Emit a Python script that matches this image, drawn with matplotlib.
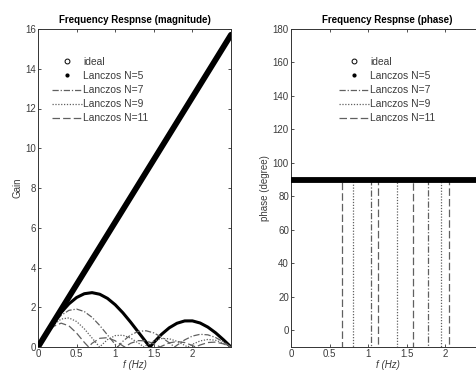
import numpy as np
import matplotlib as mlt
mlt.use("Agg")
import matplotlib.pyplot as plt
from matplotlib.lines import Line2D

plt.rcParams['font.family'] = ['Liberation Sans', 'DejaVu Sans']

# frequency grid (Hz) and gains
freq = [0.0, 0.1, 0.2, 0.3, 0.4, 0.5, 0.6, 0.7, 0.8, 0.9, 1.0, 1.1, 1.2,
        1.3, 1.4, 1.5, 1.6, 1.7, 1.8, 1.9, 2.0, 2.1, 2.2, 2.3, 2.4, 2.5]
idealFreq = [0.0, 2.5]
idealGain = [0.0, 15.71]
gainN5 = [0, 0.623, 1.212, 1.737, 2.170, 2.490, 2.681, 2.735, 2.654, 2.446, 2.127, 1.719, 1.249,
          0.747, 0.246, 0.225, 0.636, 0.965, 1.194, 1.312, 1.314, 1.207, 1.001, 0.715, 0.372, 0]
gainN7 = [0, 0.617, 1.166, 1.590, 1.844, 1.908, 1.783, 1.493, 1.082, 0.607, 0.130, 0.291, 0.606,
          0.786, 0.817, 0.710, 0.494, 0.210, 0.090, 0.357, 0.550, 0.638, 0.612, 0.478, 0.262, 0]
gainN9 = [0, 0.609, 1.107, 1.407, 1.464, 1.282, 0.916, 0.451, 0.009, 0.372, 0.574, 0.592, 0.449,
          0.201, 0.075, 0.303, 0.424, 0.415, 0.287, 0.083, 0.135, 0.305, 0.380, 0.340, 0.199, 0]
gainN11 = [0, 0.599, 1.036, 1.200, 1.066, 0.699, 0.232, 0.186, 0.437, 0.470, 0.313, 0.056, 0.187,
           0.323, 0.308, 0.165, 0.036, 0.206, 0.276, 0.222, 0.074, 0.101, 0.225, 0.247, 0.159, 0]
# frequencies where the response changes sign (gain 0, phase flips 90 -> -90)
zerosN5 = [1.451]
zerosN7 = [1.031, 1.770]
zerosN9 = [0.798, 1.373, 1.938]
zerosN11 = [0.656, 1.123, 1.582, 2.042]
idealPhase = [90, 90]

labels = ["ideal", "Lanczos N=5", "Lanczos N=7", "Lanczos N=9", "Lanczos N=11"]
grey = '#606060'
txtCol = '#3c3c3c'


def withZeros(f, g, zeros):
    # insert the notch points into the sampled curve
    ff = np.concatenate([f, zeros])
    gg = np.concatenate([g, np.zeros(len(zeros))])
    idx = np.argsort(ff, kind='stable')
    return ff[idx], gg[idx]


def phaseSteps(zeros, fmax=2.5):
    ff = [0.0]
    pp = [90.0]
    cur = 90.0
    for z in zeros:
        ff += [z, z]
        pp += [cur, -cur]
        cur = -cur
    ff.append(fmax)
    pp.append(cur)
    return ff, pp


styles = [
    dict(color='black', lw=2.2),
    dict(color=grey, lw=0.9, dashes=(5, 1.5, 1, 1.5)),
    dict(color=grey, lw=0.9, dashes=(1, 1.3)),
    dict(color=grey, lw=0.9, dashes=(6, 2.5)),
]
gains = [gainN5, gainN7, gainN9, gainN11]
zeroLists = [zerosN5, zerosN7, zerosN9, zerosN11]

fig = plt.figure(figsize=(4.76, 3.75), dpi=100)
axMag = fig.add_axes([38 / 476, 1 - 347 / 375, 193 / 476, 318 / 375])
axPh = fig.add_axes([291 / 476, 1 - 347 / 375, 193 / 476, 318 / 375])

# magnitude
axMag.plot(idealFreq, idealGain, color='black', lw=4.2, solid_capstyle='round', zorder=4)
for g, z, st in zip(gains, zeroLists, styles):
    ff, gg = withZeros(np.array(freq), np.array(g), z)
    axMag.plot(ff, gg, **st)
axMag.set_xlim(0, 2.5)
axMag.set_ylim(0, 16)
axMag.set_yticks(np.arange(0, 17, 2))
axMag.set_title("Frequency Respnse (magnitude)", fontsize=7, fontweight='bold', pad=4)
axMag.set_ylabel("Gain", fontsize=7, color=txtCol, labelpad=2)

# phase
axPh.plot(idealFreq, idealPhase, color='black', lw=4.2, zorder=4)
ff, pp = phaseSteps(zerosN5)
axPh.plot(ff[:2], pp[:2], **styles[0])
for z, st in zip(zeroLists[1:], styles[1:]):
    ff, pp = phaseSteps(z)
    axPh.plot(ff, pp, **st)
axPh.set_xlim(0, 2.5)
axPh.set_ylim(-10, 180)
axPh.set_yticks(np.arange(0, 181, 20))
axPh.set_title("Frequency Respnse (phase)", fontsize=7, fontweight='bold', pad=4)
axPh.set_ylabel("phase (degree)", fontsize=7, color=txtCol, labelpad=2)

handles = [Line2D([], [], ls='none', marker='o', mfc='none', mec='black', ms=3.5, mew=0.7),
           Line2D([], [], ls='none', marker='.', color='black', ms=4)]
handles += [Line2D([], [], **st) for st in styles[1:]]

for ax, anchor in [(axMag, (0.075, 0.912)), (axPh, (0.25, 0.912))]:
    ax.set_xticks([0, 0.5, 1, 1.5, 2])
    ax.set_xticklabels(["0", "0.5", "1", "1.5", "2"])
    ax.set_xlabel("f (Hz)", fontsize=7, style='italic', color=txtCol, labelpad=1)
    ax.tick_params(direction='in', length=2.5, width=0.6, labelsize=7, labelcolor=txtCol,
                   top=True, right=True, pad=1.5, color='#333333')
    for s in ax.spines.values():
        s.set_linewidth(0.7)
        s.set_color('#333333')
    leg = ax.legend(handles, labels, loc='upper left', bbox_to_anchor=anchor, frameon=False,
                    fontsize=7.4, handlelength=2.9, handletextpad=0.1, labelspacing=0.4,
                    borderpad=0, borderaxespad=0)
    for t in leg.get_texts():
        t.set_color(txtCol)

fig.savefig("out.png", dpi=100)
